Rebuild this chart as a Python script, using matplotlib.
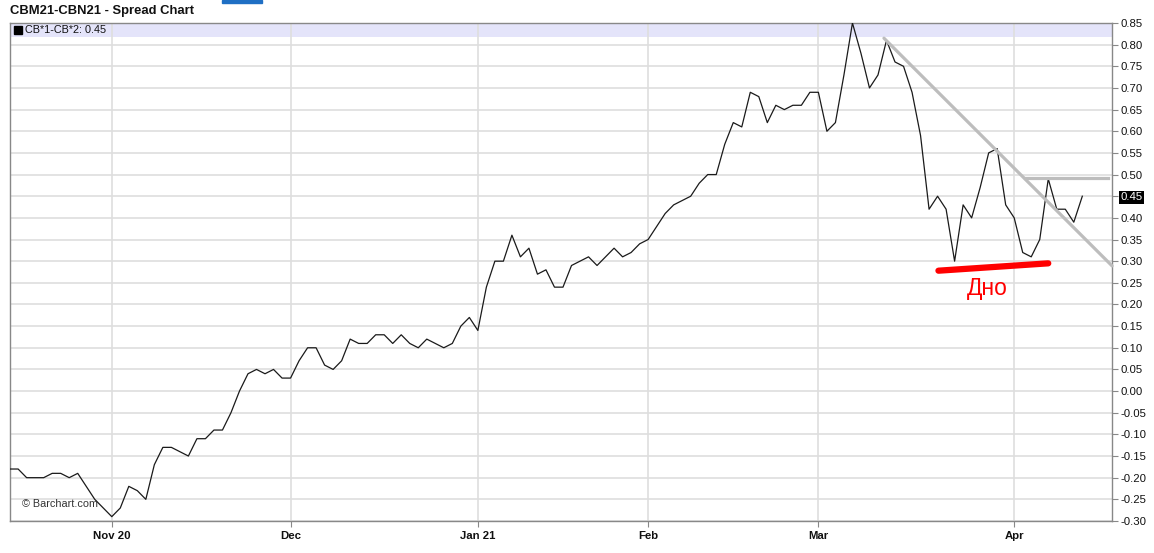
import matplotlib
matplotlib.use('Agg')
import matplotlib.pyplot as plt
import numpy as np

plt.rcParams['font.family'] = ['Liberation Sans', 'DejaVu Sans']

# daily spread CB*1-CB*2, one value per trading day (mid Oct 2020 .. early Apr 2021)
spread = [-0.18, -0.18, -0.20, -0.20, -0.20, -0.19, -0.19, -0.20, -0.19, -0.22,
          -0.25, -0.27, -0.29, -0.27, -0.22, -0.23, -0.25, -0.17, -0.13, -0.13,
          -0.14, -0.15, -0.11, -0.11, -0.09, -0.09, -0.05, 0.00, 0.04, 0.05,
          0.04, 0.05, 0.03, 0.03, 0.07, 0.10, 0.10, 0.06, 0.05, 0.07,
          0.12, 0.11, 0.11, 0.13, 0.13, 0.11, 0.13, 0.11, 0.10, 0.12,
          0.11, 0.10, 0.11, 0.15, 0.17, 0.14, 0.24, 0.30, 0.30, 0.36,
          0.31, 0.33, 0.27, 0.28, 0.24, 0.24, 0.29, 0.30, 0.31, 0.29,
          0.31, 0.33, 0.31, 0.32, 0.34, 0.35, 0.38, 0.41, 0.43, 0.44,
          0.45, 0.48, 0.50, 0.50, 0.57, 0.62, 0.61, 0.69, 0.68, 0.62,
          0.66, 0.65, 0.66, 0.66, 0.69, 0.69, 0.60, 0.62, 0.73, 0.85,
          0.78, 0.70, 0.73, 0.81, 0.76, 0.75, 0.69, 0.59, 0.42, 0.45,
          0.42, 0.30, 0.43, 0.40, 0.47, 0.55, 0.56, 0.43, 0.40, 0.32,
          0.31, 0.35, 0.49, 0.42, 0.42, 0.39, 0.45]

month_idx = [12, 33, 55, 75, 95, 118]
month_labels = ['Nov 20', 'Dec', 'Jan 21', 'Feb', 'Mar', 'Apr']

# hand drawn annotations (index, value)
trend_x = [102.7, 129.5]
trend_y = [0.815, 0.289]
resist_x = [119.3, 129.0]
resist_y = [0.491, 0.491]
bottom_x = [109.1, 122.0]
bottom_y = [0.278, 0.295]
last_value = 0.45


def plot_spread():
    fig = plt.figure(figsize=(11.54, 5.53), dpi=100)
    ax = fig.add_axes([0.0087, 0.0579, 0.955, 0.9005])

    x = np.arange(len(spread))
    ax.plot(x, spread, color='#1a1a1a', lw=0.9, zorder=3)

    # legend band on top
    ax.axhspan(0.818, 0.85, color='#e4e4fa', zorder=0.2, lw=0)
    ax.plot([0.0068], [0.986], 's', ms=5.5, color='black',
            transform=ax.transAxes, zorder=5, clip_on=False)
    ax.text(0.0136, 0.986, 'CB*1-CB*2: 0.45', transform=ax.transAxes,
            fontsize=7.8, va='center', ha='left', color='#111111', zorder=5)
    ax.text(0.011, 0.024, '\u00a9 Barchart.com', transform=ax.transAxes,
            fontsize=7.8, va='bottom', ha='left', color='#333333', zorder=5)

    ax.plot(trend_x, trend_y, color='#bdbdbd', lw=2.3, zorder=4,
            solid_capstyle='round', clip_on=False)
    ax.plot(resist_x, resist_y, color='#bdbdbd', lw=2.3, zorder=4)
    ax.plot(bottom_x, bottom_y, color='#ff0000', lw=4.5, zorder=4,
            solid_capstyle='round')
    ax.text(114.8, 0.236, 'Дно', color='#ff0000', fontsize=16.5,
            ha='center', va='center', zorder=5)

    ax.set_xlim(0.05, 129.5)
    ax.set_ylim(-0.30, 0.85)

    yt = np.round(np.arange(-0.30, 0.851, 0.05), 2) + 0.0
    ax.set_yticks(yt)
    ax.set_yticklabels(['%.2f' % abs(v) if abs(v) < 1e-9 else '%.2f' % v for v in yt])
    ax.yaxis.tick_right()
    ax.set_xticks(month_idx)
    ax.set_xticklabels(month_labels, fontweight='bold')

    ax.tick_params(axis='y', labelsize=8.2, length=4, pad=2, color='#888888',
                   labelcolor='#111111')
    ax.tick_params(axis='x', labelsize=8.2, length=4, pad=3, color='#888888',
                   labelcolor='#111111')
    for lab in ax.get_yticklabels():
        if lab.get_text() == '%.2f' % last_value:
            lab.set_color('white')
            lab.set_bbox(dict(facecolor='black', edgecolor='none', pad=1.2))

    ax.grid(True, color='#dedede', lw=1.2, zorder=0.5)
    ax.set_axisbelow(True)
    for s in ax.spines.values():
        s.set_color('#888888')
        s.set_linewidth(1.0)

    fig.text(0.0087, 0.98, 'CBM21-CBN21 - Spread Chart', fontsize=9.4,
             fontweight='bold', va='center', ha='left', color='#111111')
    fig.patches.append(plt.Rectangle((222 / 1154, 1 - 3 / 553), 40 / 1154, 3 / 553,
                                     transform=fig.transFigure, color='#1f6fc4'))

    plt.savefig('out.png', dpi=100)


plot_spread()
